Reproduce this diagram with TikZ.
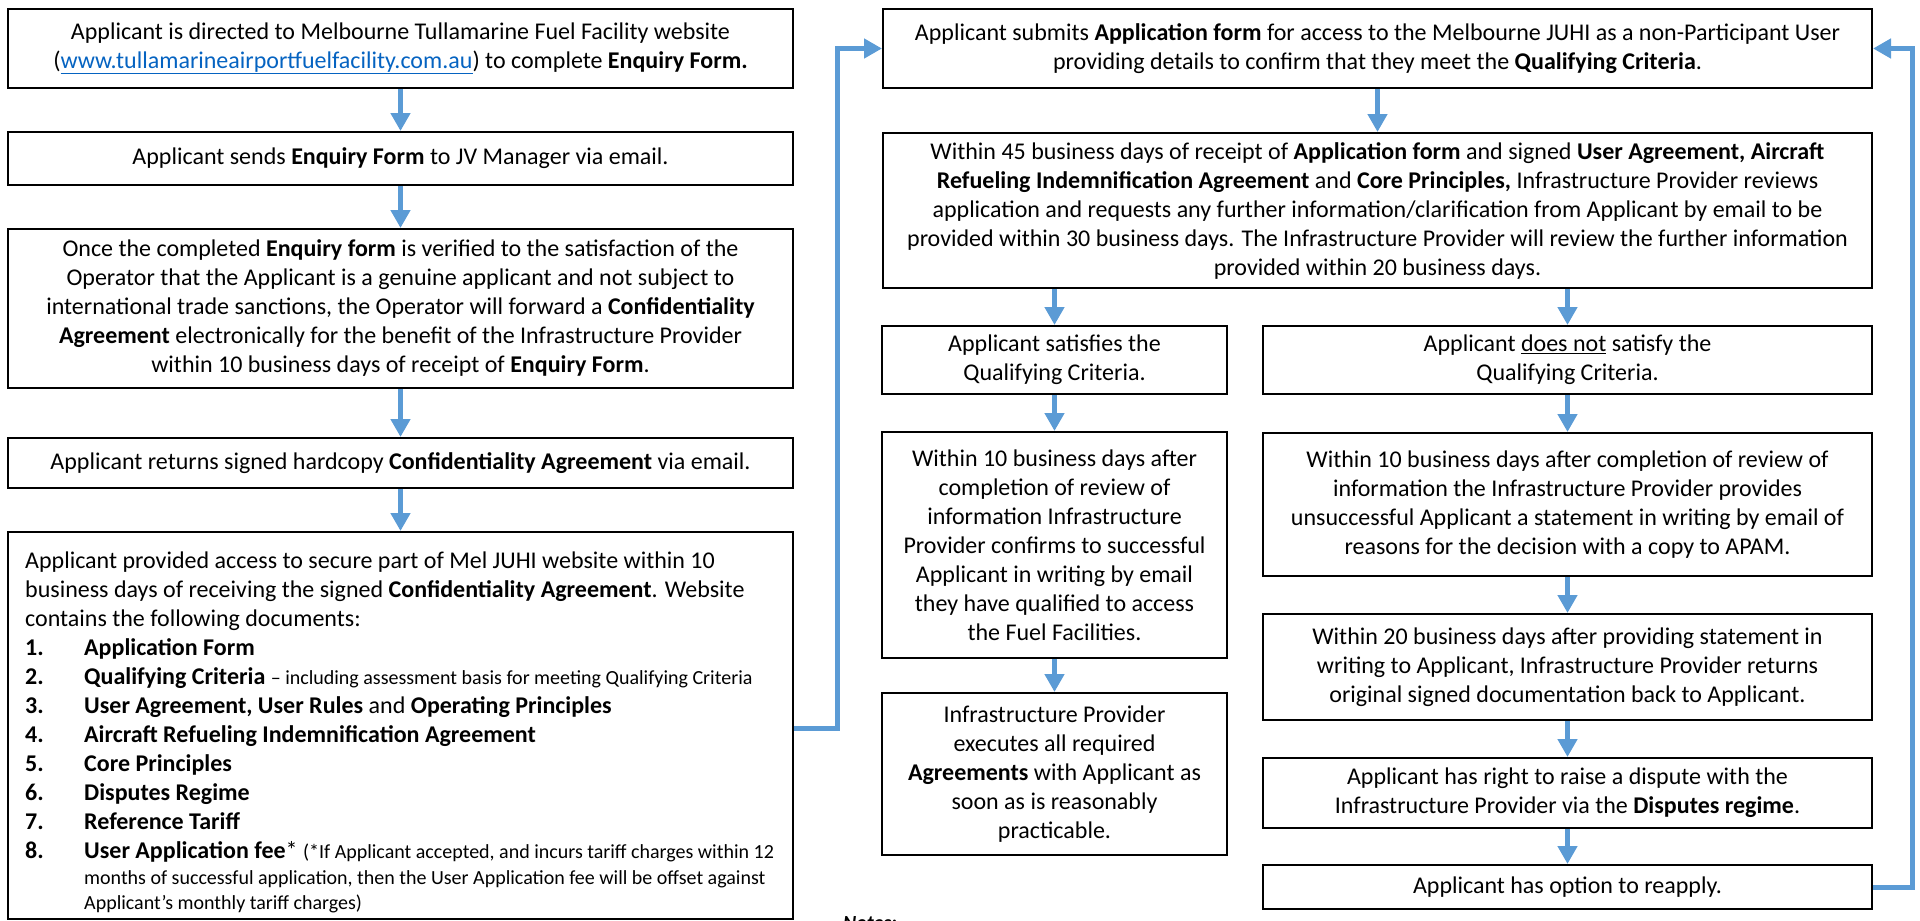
\documentclass[tikz,border=0pt]{standalone}
\usepackage{fontspec}
\setmainfont{Carlito}
\usetikzlibrary{arrows.meta}
\definecolor{arrowblue}{HTML}{5B9BD5}
\definecolor{linkblue}{HTML}{0563C1}
\tikzset{
  box/.style={draw=black, line width=2pt, inner sep=0pt, align=center,
    font=\fontsize{24}{29}\selectfont},
  arr/.style={draw=arrowblue, line width=5pt, -{Triangle[length=18pt,width=19pt]}},
  conn/.style={draw=arrowblue, line width=5pt, -{Triangle[length=18pt,width=19pt]}},
  txt/.style={inner sep=0pt, font=\fontsize{24}{29}\selectfont},
}
\newcommand{\smalltxt}{\fontsize{20}{24}\selectfont}
\newcommand{\itm}[1]{\makebox[59pt][l]{\textbf{#1}}}
\begin{document}
\begin{tikzpicture}[x=1pt,y=-1pt]
\useasboundingbox (0,0) rectangle (1920,921);
% left column
\node[box, minimum width=785pt, minimum height=79pt] (b1) at (400.5,48.5)
 {Applicant is directed to Melbourne Tullamarine Fuel Facility website\\
  (\textcolor{linkblue}{\underline{www.tullamarineairportfuelfacility.com.au}}) to complete \textbf{Enquiry Form.}};
\node[box, minimum width=785pt, minimum height=53pt] (b2) at (400.5,158.5)
 {Applicant sends \textbf{Enquiry Form} to JV Manager via email.};
\node[box, minimum width=785pt, minimum height=159pt] (b3) at (400.5,308.5)
 {Once the completed \textbf{Enquiry form} is verified to the satisfaction of the\\
  Operator that the Applicant is a genuine applicant and not subject to\\
  international trade sanctions, the Operator will forward a \textbf{Confidentiality}\\
  \textbf{Agreement} electronically for the benefit of the Infrastructure Provider\\
  within 10 business days of receipt of \textbf{Enquiry Form}.};
\node[box, minimum width=785pt, minimum height=50pt] (b4) at (400.5,463)
 {Applicant returns signed hardcopy \textbf{Confidentiality Agreement} via email.};
\node[box, minimum width=785pt, minimum height=387pt] (b5) at (400.5,725.5) {};
\node[txt, anchor=base west] (b5t) at (25,568) {\parbox[t]{790pt}{\raggedright
  Applicant provided access to secure part of Mel JUHI website within 10\\
  business days of receiving the signed \textbf{Confidentiality Agreement}. Website\\
  contains the following documents:\\
  \itm{1.}\textbf{Application Form}\\
  \itm{2.}\textbf{Qualifying Criteria} {\smalltxt -- including assessment basis for meeting Qualifying Criteria}\\
  \itm{3.}\textbf{User Agreement, User Rules} and \textbf{Operating Principles}\\
  \itm{4.}\textbf{Aircraft Refueling Indemnification Agreement}\\
  \itm{5.}\textbf{Core Principles}\\
  \itm{6.}\textbf{Disputes Regime}\\
  \itm{7.}\textbf{Reference Tariff}\\
  \itm{8.}\textbf{User Application fee}* {\smalltxt (*If Applicant accepted, and incurs tariff charges within 12}\\[-3pt]
  \hspace*{59pt}{\smalltxt months of successful application, then the User Application fee will be offset against}\\[-4pt]
  \hspace*{59pt}{\smalltxt Applicant’s monthly tariff charges)}}};
% middle / right top
\node[box, minimum width=989pt, minimum height=79pt] (b6) at (1377.5,48.5)
 {Applicant submits \textbf{Application form} for access to the Melbourne JUHI as a non-Participant User\\
  providing details to confirm that they meet the \textbf{Qualifying Criteria}.};
\node[box, minimum width=989pt, minimum height=155pt] (b7) at (1377.5,210.5)
 {Within 45 business days of receipt of \textbf{Application form} and signed \textbf{User Agreement, Aircraft}\\
  \textbf{Refueling Indemnification Agreement} and \textbf{Core Principles,} Infrastructure Provider reviews\\
  application and requests any further information/clarification from Applicant by email to be\\
  provided within 30 business days. The Infrastructure Provider will review the further information\\
  provided within 20 business days.};
% success branch
\node[box, minimum width=345pt, minimum height=68pt] (b8) at (1054.5,360)
 {Applicant satisfies the\\ Qualifying Criteria.};
\node[box, minimum width=345pt, minimum height=226pt] (b9) at (1054.5,545)
 {Within 10 business days after\\ completion of review of\\ information Infrastructure\\
  Provider confirms to successful\\ Applicant in writing by email\\ they have qualified to access\\ the Fuel Facilities.};
\node[box, minimum width=345pt, minimum height=162pt] (b10) at (1054.5,774)
 {Infrastructure Provider\\ executes all required\\ \textbf{Agreements} with Applicant as\\ soon as is reasonably\\ practicable.};
% failure branch
\node[box, minimum width=609pt, minimum height=68pt] (b11) at (1567.5,360)
 {Applicant \underline{does not} satisfy the\\ Qualifying Criteria.};
\node[box, minimum width=609pt, minimum height=143pt] (b12) at (1567.5,504.5)
 {Within 10 business days after completion of review of\\ information the Infrastructure Provider provides\\
  unsuccessful Applicant a statement in writing by email of\\ reasons for the decision with a copy to APAM.};
\node[box, minimum width=609pt, minimum height=106pt] (b13) at (1567.5,667)
 {Within 20 business days after providing statement in\\ writing to Applicant, Infrastructure Provider returns\\
  original signed documentation back to Applicant.};
\node[box, minimum width=609pt, minimum height=70pt] (b14) at (1567.5,793)
 {Applicant has right to raise a dispute with the\\ Infrastructure Provider via the \textbf{Disputes regime}.};
\node[box, minimum width=609pt, minimum height=44pt] (b15) at (1567.5,887)
 {Applicant has option to reapply.};
% notes
\node[inner sep=0pt, anchor=north west, font=\fontsize{20}{24}\selectfont\bfseries\itshape] (notes) at (843,916) {Notes:};
% arrows
\draw[arr] (b1.south) -- (b2.north);
\draw[arr] (b2.south) -- (b3.north);
\draw[arr] (b3.south) -- (b4.north);
\draw[arr] (b4.south) -- (b5.north);
\draw[arr] (b6.south) -- (b7.north);
\draw[arr] (b7.south -| b8.north) -- (b8.north);
\draw[arr] (b7.south -| b11.north) -- (b11.north);
\draw[arr] (b8.south) -- (b9.north);
\draw[arr] (b9.south) -- (b10.north);
\draw[arr] (b11.south) -- (b12.north);
\draw[arr] (b12.south) -- (b13.north);
\draw[arr] (b13.south) -- (b14.north);
\draw[arr] (b14.south) -- (b15.north);
% connectors
\coordinate (lc) at (837,728);
\coordinate (rc) at (1912,887);
\draw[conn] (b5.east |- lc) -- (lc) |- (b6.west);
\draw[conn] (b15.east) -- (rc) |- (b6.east);
\end{tikzpicture}
\end{document}
